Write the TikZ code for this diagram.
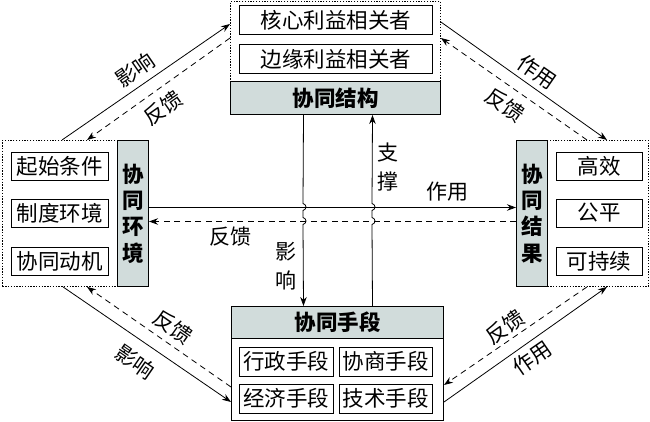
\documentclass[tikz,border=0pt]{standalone}
\usepackage{fontspec}
\setmainfont{Noto Sans CJK SC}
\usetikzlibrary{arrows.meta,calc}
\definecolor{boxgray}{RGB}{209,220,219}
\begin{document}
\begin{tikzpicture}[x=1pt,y=-1pt,
  box/.style={draw,line width=0.9pt,inner sep=0pt,minimum height=29pt,font=\fontsize{21.5}{22}\selectfont},
  grp/.style={draw,dash pattern=on 1.3pt off 1.5pt,line width=0.9pt,inner sep=0pt,anchor=north west},
  solidgrp/.style={draw,line width=1pt,inner sep=0pt,anchor=north west},
  gbox/.style={draw,fill=boxgray,line width=1pt,inner sep=0pt,anchor=north west,align=center,font=\bfseries\fontsize{21.5}{26.3}\selectfont},
  sol/.style={line width=0.8pt,-{Stealth[length=9pt,width=6.5pt]}},
  dsh/.style={sol,dash pattern=on 6pt off 4.5pt},
  lab/.style={font=\fontsize{21}{29}\selectfont,inner sep=0pt,align=center}]
\useasboundingbox (0,0) rectangle (650,422);

% top group
\node[grp,minimum width=210pt,minimum height=80pt] (tout) at (230,1) {};
\node[gbox,minimum width=210pt,minimum height=33pt] (tgray) at (230,81) {协同结构};
\node[box,minimum width=193pt] (t1) at (336,20) {核心利益相关者};
\node[box,minimum width=193pt] (t2) at (336,59) {边缘利益相关者};

% left group
\node[grp,minimum width=115pt,minimum height=146pt] (lout) at (2,140) {};
\node[gbox,minimum width=31pt,minimum height=146pt] (lgray) at (117,140) {协\\同\\环\\境};
\node[box,minimum width=97pt,minimum height=28pt] (l1) at (59.5,166) {起始条件};
\node[box,minimum width=97pt,minimum height=28pt] (l2) at (59.5,213) {制度环境};
\node[box,minimum width=97pt,minimum height=28pt] (l3) at (59.5,261.5) {协同动机};

% right group
\node[gbox,minimum width=31pt,minimum height=146pt] (rgray) at (516,140) {协\\同\\结\\果};
\node[grp,minimum width=101pt,minimum height=146pt] (rout) at (547,140) {};
\node[box,minimum width=86pt,minimum height=28pt] (r1) at (599,166) {高效};
\node[box,minimum width=86pt,minimum height=28pt] (r2) at (599,213) {公平};
\node[box,minimum width=86pt,minimum height=28pt] (r3) at (599,261.5) {可持续};

% bottom group
\node[gbox,minimum width=212pt,minimum height=32pt] (bgray) at (231,306) {协同手段};
\node[solidgrp,minimum width=212pt,minimum height=82pt] (bout) at (231,338) {};
\node[box,minimum width=94pt] (b1) at (286,361.5) {行政手段};
\node[box,minimum width=93pt] (b2) at (385.5,361.5) {协商手段};
\node[box,minimum width=94pt] (b3) at (286,398.5) {经济手段};
\node[box,minimum width=93pt] (b4) at (385.5,398.5) {技术手段};

% horizontal connectors
\draw[sol] ([yshift=6pt]lgray.east) -- ([yshift=6pt]rgray.west);
\draw[dsh] ([yshift=-8pt]rgray.west) -- ([yshift=-8pt]lgray.east);

% vertical connectors with jumps
\draw[sol] ([xshift=-32pt]tgray.south) -- (303,203.5)
  .. controls (307,204.5) and (307,209.5) .. (303,210.5) -- (303,217.5)
  .. controls (307,218.5) and (307,223.5) .. (303,224.5)
  -- ([xshift=-32pt]tgray.south |- bgray.north);
\draw[sol] ([xshift=37pt]tgray.south |- bgray.north) -- (372,224.5)
  .. controls (376,223.5) and (376,218.5) .. (372,217.5) -- (372,210.5)
  .. controls (376,209.5) and (376,204.5) .. (372,203.5)
  -- ([xshift=37pt]tgray.south);

% diagonal connectors
\draw[sol] ([xshift=60pt]lout.north west) -- ([yshift=-23pt]tout.north west);
\draw[dsh] ([yshift=-37pt]tout.north west) -- ([xshift=85pt]lout.north west);
\draw[sol] ([yshift=-21pt]tout.north east) -- ([xshift=60pt]rout.north west);
\draw[dsh] ([xshift=40pt]rout.north west) -- ([yshift=-37pt]tout.north east);
\draw[sol] ([xshift=61pt]lout.south west) -- ([yshift=-64pt]bout.north west);
\draw[dsh] ([yshift=-49pt]bout.north west) -- ([xshift=85pt]lout.south west);
\draw[sol] ([yshift=-64pt]bout.north east) -- ([xshift=60pt]rout.south west);
\draw[dsh] ([xshift=40pt]rout.south west) -- ([yshift=-47pt]bout.north east);

% labels
\node[lab] (zc) at (388,167) {支\\撑};
\node[lab] (yxv) at (286,266) {影\\响};
\node[lab] (zyh) at (447,192) {作用};
\node[lab] (fkh) at (230,237) {反馈};
\node[lab,rotate=34.6] (tl1) at (135,70) {影响};
\node[lab,rotate=35] (tl2) at (163,108) {反馈};
\node[lab,rotate=-34.6] (tr1) at (537,72) {作用};
\node[lab,rotate=-35] (tr2) at (505,105) {反馈};
\node[lab,rotate=-35] (bl1) at (173,327) {反馈};
\node[lab,rotate=-34.6] (bl2) at (135,362) {影响};
\node[lab,rotate=35] (br1) at (505,327) {反馈};
\node[lab,rotate=34.6] (br2) at (532,358) {作用};
\end{tikzpicture}
\end{document}
